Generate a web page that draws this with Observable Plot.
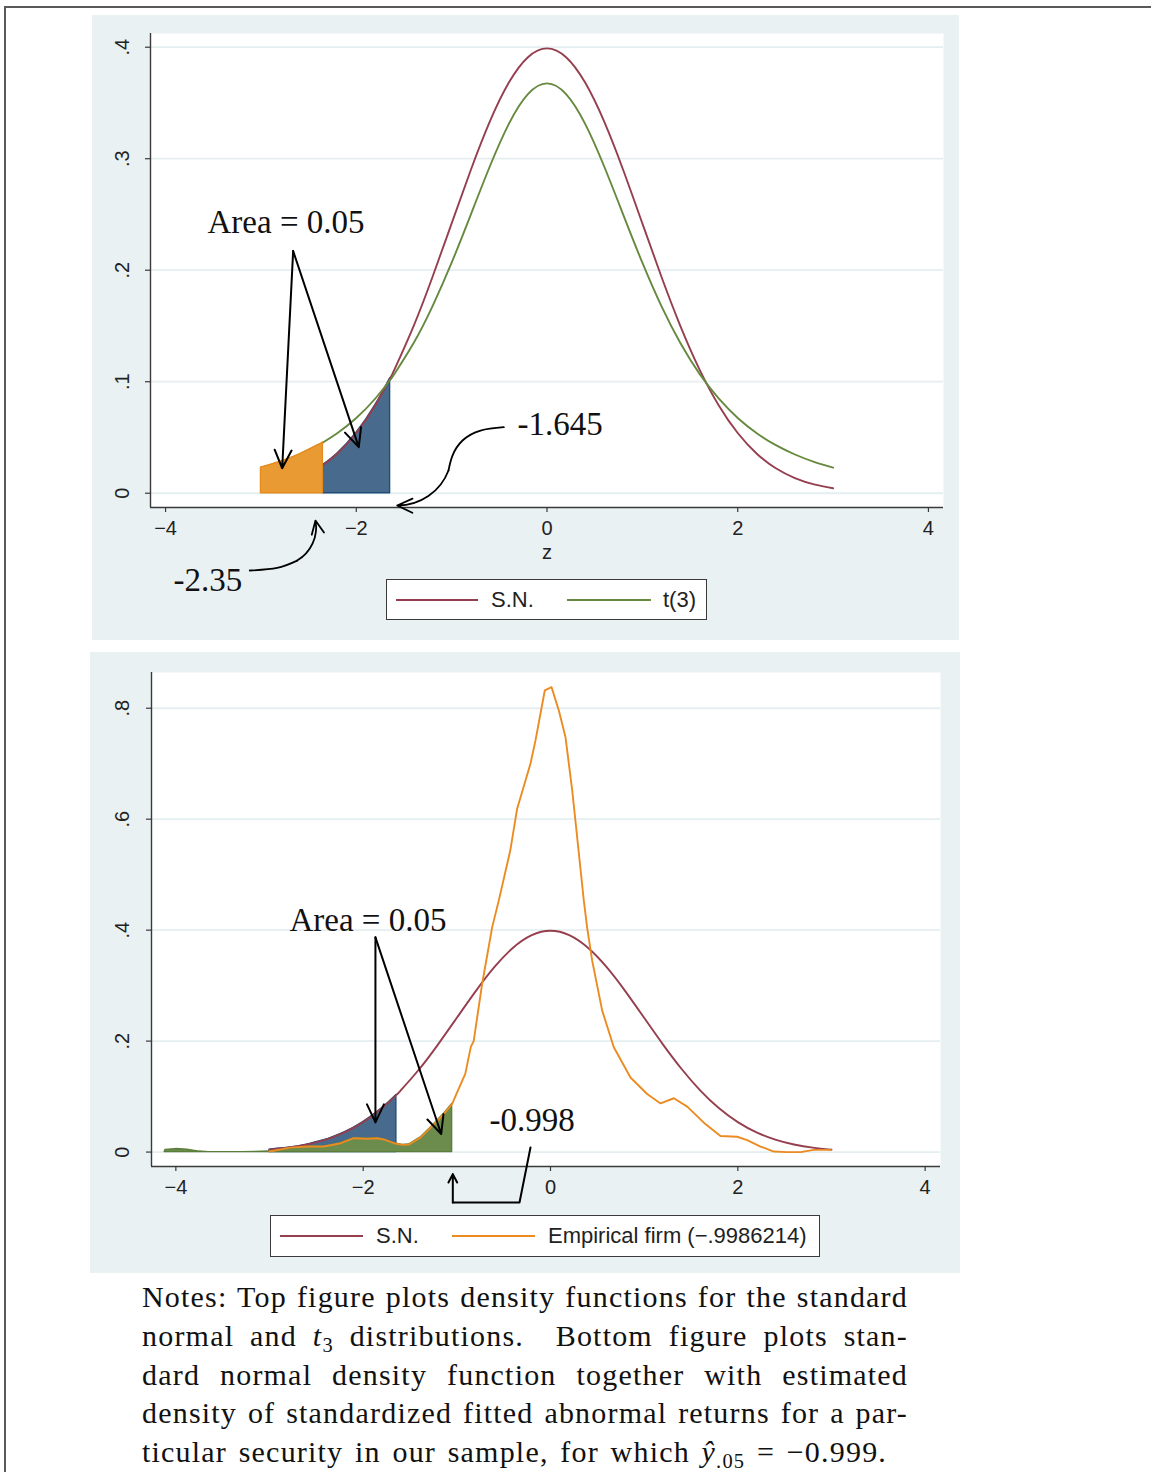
<!DOCTYPE html>
<html><head><meta charset="utf-8">
<script src="https://cdn.jsdelivr.net/npm/d3@7"></script>
<script src="https://cdn.jsdelivr.net/npm/@observablehq/plot@0.6"></script>
<style>
body{margin:0;background:#fff;}
#page{position:relative;width:1151px;height:1472px;overflow:hidden;background:#fff;}
.abs{position:absolute;}
.legend{position:absolute;border:1.5px solid #3a3a3a;background:#fff;box-sizing:border-box;}
.lline{position:absolute;height:2px;}
.ltext{position:absolute;font-family:"Liberation Sans",Arial,sans-serif;font-size:22px;color:#222;line-height:1;transform:translateY(-50%);white-space:nowrap;}
#notes{position:absolute;left:142px;top:1278px;width:766px;font-family:"Liberation Serif","Times New Roman",serif;font-size:30px;letter-spacing:1.2px;line-height:38.75px;color:#111;}
#notes div{text-align:justify;text-align-last:justify;white-space:nowrap;}
#notes div.last{text-align:left;text-align-last:left;word-spacing:3px;}
#notes sub{font-size:0.68em;line-height:0;vertical-align:-0.3em;}
</style>
</head><body>
<div id="page">
  <div class="abs" style="left:4px;top:6px;width:1147px;height:1.5px;background:#5a5a5a"></div>
  <div class="abs" style="left:4px;top:6px;width:1.5px;height:1466px;background:#5a5a5a"></div>
  <div id="top" class="abs" style="left:92px;top:15px"></div>
  <div id="bottom" class="abs" style="left:90px;top:652px"></div>
  <div id="legends"></div>
  <div id="notes">
    <div>Notes: Top figure plots density functions for the standard</div>
    <div>normal and <i>t</i><sub>3</sub> distributions.&nbsp; Bottom figure plots stan-</div>
    <div>dard normal density function together with estimated</div>
    <div>density of standardized fitted abnormal returns for a par-</div>
    <div class="last">ticular security in our sample, for which <i>ŷ</i><sub>.05</sub> = −0.999.</div>
  </div>
</div>
<script>
// ---------------- data ----------------
const zValues = [-3,-2.8,-2.6,-2.4,-2.35,-2.2,-2,-1.8,-1.645,-1.6,-1.4,-1.2,-1,-0.8,-0.6,-0.4,-0.2,0,0.2,0.4,0.6,0.8,1,1.2,1.4,1.6,1.8,2,2.2,2.4,2.6,2.8,3];
const normalDensity = [0.00443,0.00792,0.01358,0.02239,0.02522,0.03547,0.05399,0.07895,0.10311,0.11092,0.14973,0.19419,0.24197,0.28969,0.33322,0.36827,0.39104,0.39894,0.39104,0.36827,0.33322,0.28969,0.24197,0.19419,0.14973,0.11092,0.07895,0.05399,0.03547,0.02239,0.01358,0.00792,0.00443];
const t3Density = [0.02297,0.02815,0.03473,0.04311,0.04554,0.05382,0.06751,0.08496,0.10160,0.10701,0.13446,0.16780,0.20675,0.24967,0.29301,0.33128,0.35795,0.36755,0.35795,0.33128,0.29301,0.24967,0.20675,0.16780,0.13446,0.10701,0.08496,0.06751,0.05382,0.04311,0.03473,0.02815,0.02297];

const empiricalZ = [-4.12,-4.11,-4.0,-3.88,-3.75,-3.65,-3.3,-3.0,-2.78,-2.6,-2.42,-2.24,-2.10,-1.96,-1.85,-1.78,-1.67,-1.58,-1.51,-1.39,-1.28,-1.14,-1.05,-0.996,-0.91,-0.85,-0.82,-0.73,-0.623,-0.55,-0.43,-0.356,-0.214,-0.16,-0.061,0.011,0.089,0.16,0.232,0.285,0.356,0.391,0.445,0.552,0.676,0.854,1.032,1.175,1.317,1.46,1.637,1.815,1.993,2.10,2.242,2.385,2.527,2.67,2.81,2.99];
const empiricalDensity = [0,0.004,0.0055,0.0045,0.001,0,0,0.001,0.008,0.010,0.010,0.016,0.025,0.024,0.025,0.0227,0.016,0.013,0.0137,0.026,0.044,0.0685,0.087,0.108,0.141,0.19,0.20,0.303,0.405,0.455,0.543,0.619,0.70,0.742,0.832,0.838,0.796,0.748,0.652,0.567,0.453,0.405,0.345,0.255,0.189,0.1345,0.1046,0.0877,0.097,0.082,0.053,0.029,0.0276,0.0216,0.010,0.001,0,0,0.004,0.004];

const xTicks = [-4,-2,0,2,4];
const xTickLabels = ["−4","−2","0","2","4"];
const yTicksTop = [0,0.1,0.2,0.3,0.4];
const yTickLabelsTop = ["0",".1",".2",".3",".4"];
const yTicksBottom = [0,0.2,0.4,0.6,0.8];
const yTickLabelsBottom = ["0",".2",".4",".6",".8"];

const cutT = -2.35, cutNormal = -1.645, tailStart = -3, cutEmpirical = -1.05;

// annotations (data units of each panel)
const topAreaLabel = [{x:-3.56, y:0.2428, text:"Area = 0.05"}];
const topAreaArrows = [{x1:-2.662,y1:0.2172,x2:-2.777,y2:0.0224},{x1:-2.662,y1:0.2172,x2:-1.974,y2:0.0413}];
const topNormalLabel = [{x:-0.309, y:0.0616, text:"-1.645"}];
const topNormalCurve = [{x:-0.453,y:0.0592},{x:-0.697,y:0.0562},{x:-0.886,y:0.0473},{x:-0.991,y:0.0338},{x:-1.033,y:0.0204}];
const topNormalHead = [{x1:-1.033,y1:0.0204,x2:-1.571,y2:-0.0110}];
const topTLabel = [{x:-3.917, y:-0.0783, text:"-2.35"}];
const topTCurve = [{x:-3.117,y:-0.0693},{x:-2.83,y:-0.0670},{x:-2.62,y:-0.0604}];
const topTHead = [{x1:-2.62,y1:-0.0604,x2:-2.428,y2:-0.0245}];

const botAreaLabel = [{x:-2.787, y:0.4172, text:"Area = 0.05"}];
const botAreaArrows = [{x1:-1.869,y1:0.387,x2:-1.869,y2:0.0534},{x1:-1.869,y1:0.387,x2:-1.167,y2:0.0325}];
const botEmpLabel = [{x:-0.651, y:0.0564, text:"-0.998"}];
const botEmpPath = [{x:-0.2136,y:0.0083},{x:-0.331,y:-0.0909},{x:-1.043,y:-0.0909}];
const botEmpHead = [{x1:-1.043,y1:-0.0909,x2:-1.043,y2:-0.0397}];

// ---------------- styles ----------------
const BG = "#eaf1f3", GRID = "#e5eef0", AXIS = "#3a3a3a";
const RED = "#953f4e", GREEN = "#66893f", ORANGE = "#ec8b22";
const OR_FILL = "#e99a32", OR_STROKE = "#e58a1c";
const BLUE_FILL = "#486b8d", BLUE_STROKE = "#1f4c78";
const OLIVE_FILL = "#6b8c4c", OLIVE_STROKE = "#5a7d3a";
const SERIF = "Liberation Serif, Times New Roman, serif";
const TICK_FS = 20;

const topData = zValues.map((z, i) => ({z, normal: normalDensity[i], t3: t3Density[i]}));
const empData = empiricalZ.map((z, i) => ({z, d: empiricalDensity[i]}));

function frameMarks(xDomain, yDomain, yTicks, yLabels, yLabelDx) {
  return {
    back: [
      Plot.frame({fill: "white", stroke: null}),
      Plot.gridY(yTicks, {stroke: GRID, strokeOpacity: 1, strokeWidth: 1.8})
    ],
    front: [
      Plot.ruleX([xDomain[0]], {stroke: AXIS, strokeWidth: 1.4}),
      Plot.ruleY([yDomain[0]], {stroke: AXIS, strokeWidth: 1.4}),
      Plot.axisX(xTicks, {tickSize: 5, text: null, stroke: AXIS, strokeWidth: 1.2, label: null}),
      Plot.text(xTicks, {x: (d) => d, text: (d, i) => xTickLabels[i], frameAnchor: "bottom", lineAnchor: "middle", dy: 21, fontSize: TICK_FS, fill: "#222"}),
      Plot.axisY(yTicks, {tickSize: 5, stroke: AXIS, strokeWidth: 1.2, tickFormat: () => "", label: null}),
      Plot.text(yTicks, {y: (d) => d, text: (d, i) => yLabels[i], frameAnchor: "left", dx: yLabelDx, rotate: -90, textAnchor: "middle", lineAnchor: "middle", fontSize: TICK_FS, fill: "#222"})
    ]
  };
}

function annotText(data) {
  return Plot.text(data, {x: "x", y: "y", text: "text", textAnchor: "start", lineAnchor: "middle", fontFamily: SERIF, fontSize: 33, fill: "#111"});
}

const plotStyle = {background: BG, fontFamily: "Liberation Sans, Arial, sans-serif", fontSize: "20px", color: "#222", overflow: "visible"};

// ---------------- top panel ----------------
const topX = [-4.158, 4.158], topY = [-0.0128, 0.4123];
const fmTop = frameMarks(topX, topY, yTicksTop, yTickLabelsTop, -28);
const topPlot = Plot.plot({
  width: 867, height: 625,
  marginLeft: 58, marginRight: 16, marginTop: 18, marginBottom: 133,
  style: plotStyle,
  x: {domain: topX, label: null},
  y: {domain: topY, label: null},
  marks: [
    ...fmTop.back,
    Plot.areaY(topData.filter(d => d.z >= cutT && d.z <= cutNormal), {x: "z", y: "normal", fill: BLUE_FILL, stroke: BLUE_STROKE, strokeWidth: 1.3, curve: "natural"}),
    Plot.line(topData, {x: "z", y: "normal", stroke: RED, strokeWidth: 1.9, curve: "natural"}),
    Plot.line(topData, {x: "z", y: "t3", stroke: GREEN, strokeWidth: 1.9, curve: "natural"}),
    Plot.areaY(topData.filter(d => d.z >= tailStart && d.z <= cutT), {x: "z", y: "t3", fill: OR_FILL, stroke: OR_STROKE, strokeWidth: 1.3, curve: "natural"}),
    ...fmTop.front,
    Plot.text(["z"], {frameAnchor: "bottom", lineAnchor: "middle", dy: 45, text: d => d, fontSize: TICK_FS, fill: "#222"}),
    annotText(topAreaLabel),
    Plot.arrow(topAreaArrows, {x1: "x1", y1: "y1", x2: "x2", y2: "y2", stroke: "#000", strokeWidth: 2, headLength: 15, headAngle: 50}),
    annotText(topNormalLabel),
    Plot.line(topNormalCurve, {x: "x", y: "y", stroke: "#000", strokeWidth: 1.8, curve: "natural"}),
    Plot.arrow(topNormalHead, {x1: "x1", y1: "y1", x2: "x2", y2: "y2", stroke: "#000", strokeWidth: 1.8, headLength: 14, headAngle: 50, bend: 35}),
    annotText(topTLabel),
    Plot.line(topTCurve, {x: "x", y: "y", stroke: "#000", strokeWidth: 1.8, curve: "natural"}),
    Plot.arrow(topTHead, {x1: "x1", y1: "y1", x2: "x2", y2: "y2", stroke: "#000", strokeWidth: 1.8, headLength: 13, headAngle: 50, bend: -35})
  ]
});
document.getElementById("top").append(topPlot);

// ---------------- bottom panel ----------------
const botX = [-4.26, 4.164], botY = [-0.026, 0.8644];
const fmBot = frameMarks(botX, botY, yTicksBottom, yTickLabelsBottom, -29);
const botPlot = Plot.plot({
  width: 870, height: 621,
  marginLeft: 61, marginRight: 20, marginTop: 20, marginBottom: 107,
  style: plotStyle,
  x: {domain: botX, label: null},
  y: {domain: botY, label: null},
  marks: [
    ...fmBot.back,
    Plot.areaY(topData.filter(d => d.z >= tailStart && d.z <= cutNormal), {x: "z", y: "normal", fill: BLUE_FILL, stroke: BLUE_STROKE, strokeWidth: 1.3, curve: "natural"}),
    Plot.areaY(empData.filter(d => d.z <= cutEmpirical), {x: "z", y: "d", fill: OLIVE_FILL, stroke: OLIVE_STROKE, strokeWidth: 1.3}),
    Plot.line(topData, {x: "z", y: "normal", stroke: RED, strokeWidth: 1.9, curve: "natural"}),
    Plot.line(empData.filter(d => d.z >= tailStart), {x: "z", y: "d", stroke: ORANGE, strokeWidth: 1.9}),
    ...fmBot.front,
    annotText(botAreaLabel),
    Plot.arrow(botAreaArrows, {x1: "x1", y1: "y1", x2: "x2", y2: "y2", stroke: "#000", strokeWidth: 2, headLength: 15, headAngle: 50}),
    annotText(botEmpLabel),
    Plot.line(botEmpPath, {x: "x", y: "y", stroke: "#000", strokeWidth: 2}),
    Plot.arrow(botEmpHead, {x1: "x1", y1: "y1", x2: "x2", y2: "y2", stroke: "#000", strokeWidth: 2, headLength: 12, headAngle: 55})
  ]
});
document.getElementById("bottom").append(botPlot);

// ---------------- legends (HTML) ----------------
const legendBoxes = [
  {left: 386, top: 579, width: 321, height: 41},
  {left: 270, top: 1215, width: 550, height: 42}
];
const legendItems = [
  {x1: 396, x2: 478, y: 600, color: RED, textX: 491, label: "S.N."},
  {x1: 567, x2: 651, y: 600, color: GREEN, textX: 663, label: "t(3)"},
  {x1: 280, x2: 363, y: 1236, color: RED, textX: 376, label: "S.N."},
  {x1: 452, x2: 535, y: 1236, color: ORANGE, textX: 548, label: "Empirical firm (−.9986214)"}
];
const lg = document.getElementById("legends");
for (const b of legendBoxes) {
  const d = document.createElement("div");
  d.className = "legend";
  Object.assign(d.style, {left: b.left + "px", top: b.top + "px", width: b.width + "px", height: b.height + "px"});
  lg.append(d);
}
for (const it of legendItems) {
  const l = document.createElement("div");
  l.className = "lline";
  Object.assign(l.style, {left: it.x1 + "px", top: (it.y - 1) + "px", width: (it.x2 - it.x1) + "px", background: it.color});
  lg.append(l);
  const t = document.createElement("div");
  t.className = "ltext";
  t.textContent = it.label;
  Object.assign(t.style, {left: it.textX + "px", top: it.y + "px"});
  lg.append(t);
}
</script>
</body></html>
